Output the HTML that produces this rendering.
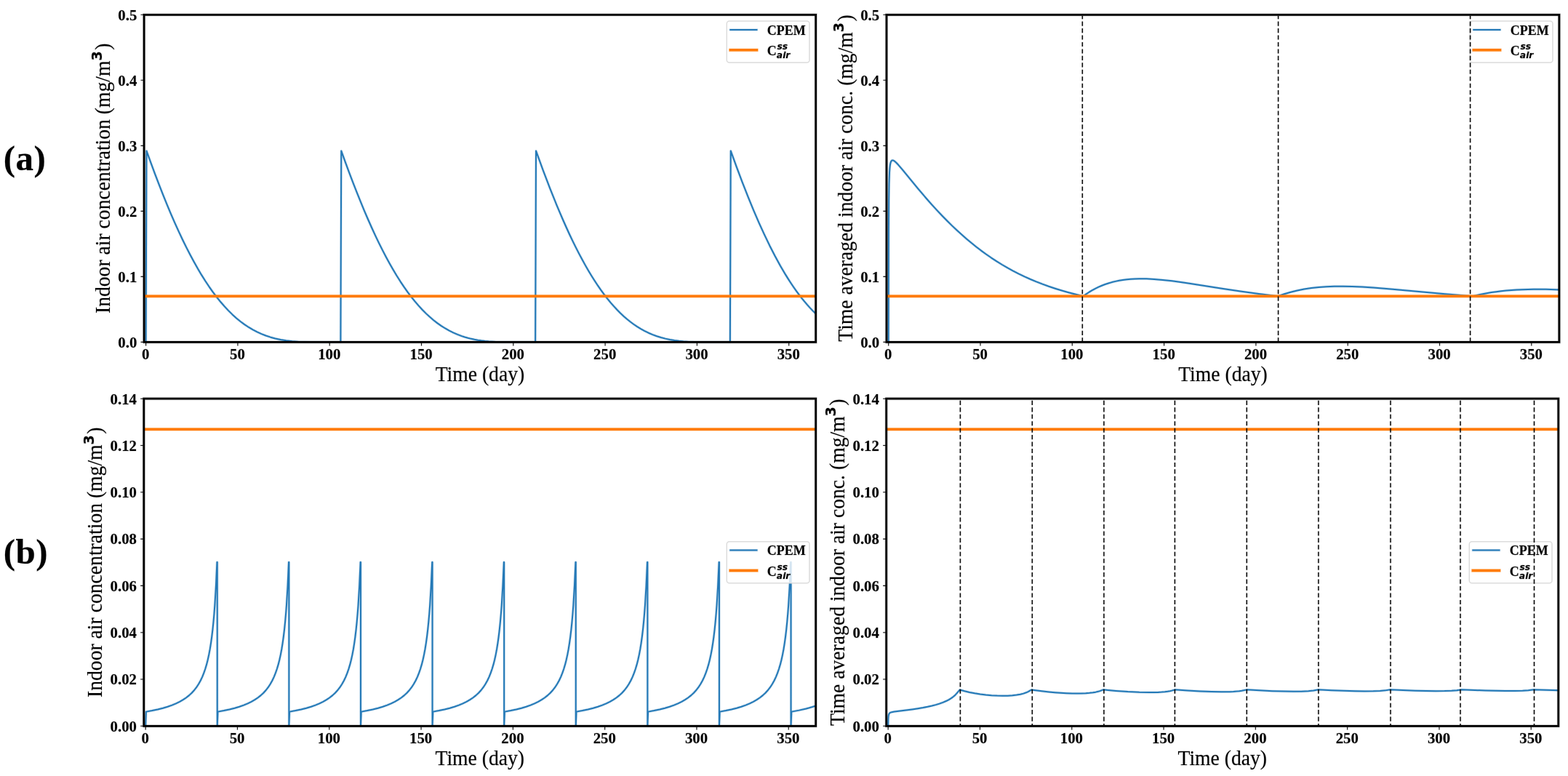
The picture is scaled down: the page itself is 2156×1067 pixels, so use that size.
<!DOCTYPE html>
<html lang="en"><head><meta charset="utf-8"><title>Indoor air concentration figure</title>
<style>
html,body{margin:0;padding:0;background:#fff;}
body{width:2156px;height:1067px;overflow:hidden;}
svg{display:block;}
.tk{font-family:"Liberation Serif","Times New Roman",serif;font-weight:bold;font-size:20.8px;fill:#000;}
.lb{font-family:"Liberation Serif","Times New Roman",serif;font-size:27.65px;fill:#000;}
.sup{font-family:"DejaVu Sans",sans-serif;font-weight:bold;font-size:19.2px;}
.lg{font-family:"Liberation Serif","Times New Roman",serif;font-weight:bold;font-size:18px;fill:#000;}
.ms{font-family:"DejaVu Sans",sans-serif;font-weight:bold;font-style:italic;font-size:12.3px;fill:#000;}
.pn{font-family:"Liberation Serif","Times New Roman",serif;font-weight:bold;font-size:49px;fill:#000;letter-spacing:.5px;}
text{stroke:#000;stroke-opacity:.22;stroke-width:.9px;paint-order:stroke;stroke-linejoin:round;}
</style></head><body>
<svg width="2156" height="1067" viewBox="0 0 2156 1067" role="img" aria-label="Indoor air concentration and time averaged indoor air concentration for scenarios (a) and (b)">
<rect width="2156" height="1067" fill="#fff"/>
<g id="fig">
<g id="ax1">
<clipPath id="clip1"><rect x="197.10" y="19.30" width="925.60" height="452.10"/></clipPath>
<g clip-path="url(#clip1)" fill="none">
<path d="M200.60,470.40 L201.48,207.41 L207.27,223.45 L213.06,239.07 L218.62,253.67 L224.19,267.84 L229.75,281.55 L235.09,294.28 L240.44,306.55 L245.78,318.37 L251.12,329.72 L256.24,340.15 L261.58,350.56 L266.70,360.08 L272.04,369.54 L277.16,378.14 L282.28,386.29 L287.62,394.32 L292.74,401.57 L298.08,408.66 L303.43,415.27 L308.77,421.43 L314.11,427.13 L319.45,432.39 L325.02,437.41 L330.58,441.98 L336.14,446.12 L341.93,449.98 L347.72,453.41 L353.51,456.44 L359.51,459.18 L365.52,461.53 L371.98,463.67 L378.43,465.43 L385.78,467.02 L393.57,468.30 L401.80,469.25 L410.49,469.89 L418.28,470.21 L427.18,470.38 L468.36,470.40 L469.24,207.41 L474.80,222.84 L480.15,237.29 L485.49,251.37 L490.61,264.48 L495.73,277.22 L500.85,289.56 L505.97,301.49 L511.08,313.01 L516.20,324.10 L521.10,334.31 L526.00,344.11 L530.89,353.51 L535.79,362.49 L540.69,371.07 L545.58,379.23 L550.70,387.32 L555.60,394.65 L560.50,401.57 L565.39,408.08 L570.51,414.47 L575.63,420.43 L580.75,425.98 L585.87,431.11 L590.99,435.85 L596.11,440.21 L601.45,444.35 L606.79,448.10 L612.14,451.48 L617.70,454.62 L623.26,457.40 L629.05,459.92 L634.84,462.09 L639.07,463.47 L643.52,464.74 L647.97,465.85 L652.42,466.81 L657.10,467.66 L661.77,468.36 L666.89,468.98 L672.01,469.46 L681.36,470.04 L692.04,470.34 L736.11,470.40 L737.00,207.41 L746.79,234.31 L756.14,258.82 L765.26,281.55 L769.72,292.19 L774.17,302.51 L778.62,312.52 L783.07,322.21 L787.52,331.57 L791.75,340.15 L796.20,348.86 L800.43,356.82 L804.88,364.87 L809.11,372.20 L813.34,379.23 L817.79,386.29 L822.02,392.69 L826.47,399.10 L830.70,404.87 L835.15,410.63 L839.60,416.07 L844.06,421.18 L848.51,425.98 L852.96,430.47 L857.41,434.65 L862.09,438.74 L866.76,442.50 L871.43,445.96 L876.11,449.13 L881.00,452.14 L886.35,455.09 L891.69,457.71 L897.25,460.10 L903.04,462.24 L908.83,464.06 L914.84,465.64 L921.07,466.98 L927.52,468.07 L933.53,468.86 L939.77,469.46 L946.44,469.91 L953.57,470.21 L965.58,470.40 L1003.87,470.40 L1004.75,207.41 L1012.99,230.11 L1020.78,250.79 L1028.57,270.62 L1036.14,289.03 L1043.70,306.55 L1051.05,322.68 L1058.39,337.92 L1065.74,352.25 L1073.08,365.66 L1080.43,378.14 L1083.99,383.86 L1087.77,389.70 L1091.34,394.97 L1095.12,400.34 L1098.68,405.17 L1102.46,410.07 L1106.03,414.47 L1109.81,418.92 L1113.59,423.14 L1117.38,427.13 L1121.16,430.90 L1124.94,434.45" stroke="#2479b7" stroke-width="3.30" stroke-opacity="0.28" fill="none" stroke-linejoin="round" stroke-linecap="butt"/>
<path d="M200.60,470.40 L201.48,207.41 L207.27,223.45 L213.06,239.07 L218.62,253.67 L224.19,267.84 L229.75,281.55 L235.09,294.28 L240.44,306.55 L245.78,318.37 L251.12,329.72 L256.24,340.15 L261.58,350.56 L266.70,360.08 L272.04,369.54 L277.16,378.14 L282.28,386.29 L287.62,394.32 L292.74,401.57 L298.08,408.66 L303.43,415.27 L308.77,421.43 L314.11,427.13 L319.45,432.39 L325.02,437.41 L330.58,441.98 L336.14,446.12 L341.93,449.98 L347.72,453.41 L353.51,456.44 L359.51,459.18 L365.52,461.53 L371.98,463.67 L378.43,465.43 L385.78,467.02 L393.57,468.30 L401.80,469.25 L410.49,469.89 L418.28,470.21 L427.18,470.38 L468.36,470.40 L469.24,207.41 L474.80,222.84 L480.15,237.29 L485.49,251.37 L490.61,264.48 L495.73,277.22 L500.85,289.56 L505.97,301.49 L511.08,313.01 L516.20,324.10 L521.10,334.31 L526.00,344.11 L530.89,353.51 L535.79,362.49 L540.69,371.07 L545.58,379.23 L550.70,387.32 L555.60,394.65 L560.50,401.57 L565.39,408.08 L570.51,414.47 L575.63,420.43 L580.75,425.98 L585.87,431.11 L590.99,435.85 L596.11,440.21 L601.45,444.35 L606.79,448.10 L612.14,451.48 L617.70,454.62 L623.26,457.40 L629.05,459.92 L634.84,462.09 L639.07,463.47 L643.52,464.74 L647.97,465.85 L652.42,466.81 L657.10,467.66 L661.77,468.36 L666.89,468.98 L672.01,469.46 L681.36,470.04 L692.04,470.34 L736.11,470.40 L737.00,207.41 L746.79,234.31 L756.14,258.82 L765.26,281.55 L769.72,292.19 L774.17,302.51 L778.62,312.52 L783.07,322.21 L787.52,331.57 L791.75,340.15 L796.20,348.86 L800.43,356.82 L804.88,364.87 L809.11,372.20 L813.34,379.23 L817.79,386.29 L822.02,392.69 L826.47,399.10 L830.70,404.87 L835.15,410.63 L839.60,416.07 L844.06,421.18 L848.51,425.98 L852.96,430.47 L857.41,434.65 L862.09,438.74 L866.76,442.50 L871.43,445.96 L876.11,449.13 L881.00,452.14 L886.35,455.09 L891.69,457.71 L897.25,460.10 L903.04,462.24 L908.83,464.06 L914.84,465.64 L921.07,466.98 L927.52,468.07 L933.53,468.86 L939.77,469.46 L946.44,469.91 L953.57,470.21 L965.58,470.40 L1003.87,470.40 L1004.75,207.41 L1012.99,230.11 L1020.78,250.79 L1028.57,270.62 L1036.14,289.03 L1043.70,306.55 L1051.05,322.68 L1058.39,337.92 L1065.74,352.25 L1073.08,365.66 L1080.43,378.14 L1083.99,383.86 L1087.77,389.70 L1091.34,394.97 L1095.12,400.34 L1098.68,405.17 L1102.46,410.07 L1106.03,414.47 L1109.81,418.92 L1113.59,423.14 L1117.38,427.13 L1121.16,430.90 L1124.94,434.45" stroke="#2479b7" stroke-width="2.00" fill="none" stroke-linejoin="round" stroke-linecap="butt"/>
<path d="M198.10,407.30 H1121.70" stroke="#ff7b06" stroke-width="4.80" stroke-opacity="0.28" fill="none" />
<path d="M198.10,407.30 H1121.70" stroke="#ff7b06" stroke-width="3.50" fill="none" />
</g>
<path d="M200.60,470.40 v5.08 M326.90,470.40 v5.08 M453.20,470.40 v5.08 M579.50,470.40 v5.08 M705.80,470.40 v5.08 M832.10,470.40 v5.08 M958.40,470.40 v5.08 M1084.70,470.40 v5.08 M198.10,470.40 h-4.58 M198.10,380.38 h-4.58 M198.10,290.36 h-4.58 M198.10,200.34 h-4.58 M198.10,110.32 h-4.58 M198.10,20.30 h-4.58" stroke="#1a1a1a" stroke-width="2.30" stroke-opacity="0.12" fill="none" />
<path d="M200.60,470.40 v5.08 M326.90,470.40 v5.08 M453.20,470.40 v5.08 M579.50,470.40 v5.08 M705.80,470.40 v5.08 M832.10,470.40 v5.08 M958.40,470.40 v5.08 M1084.70,470.40 v5.08 M198.10,470.40 h-4.58 M198.10,380.38 h-4.58 M198.10,290.36 h-4.58 M198.10,200.34 h-4.58 M198.10,110.32 h-4.58 M198.10,20.30 h-4.58" stroke="#1a1a1a" stroke-width="1.10" fill="none" />
<path d="M198.10,20.30 H1121.70 V470.40 H198.10 Z" stroke="#000000" stroke-width="4.05" stroke-opacity="0.22" fill="none" stroke-linejoin="miter"/>
<path d="M198.10,20.30 H1121.70 V470.40 H198.10 Z" stroke="#000000" stroke-width="2.75" fill="none" stroke-linejoin="miter"/>
<text class="tk" transform="translate(200.20,493.90) scale(1,1.050)" text-anchor="middle">0</text>
<text class="tk" transform="translate(326.50,493.90) scale(1,1.050)" text-anchor="middle">50</text>
<text class="tk" transform="translate(452.80,493.90) scale(1,1.050)" text-anchor="middle">100</text>
<text class="tk" transform="translate(579.10,493.90) scale(1,1.050)" text-anchor="middle">150</text>
<text class="tk" transform="translate(705.40,493.90) scale(1,1.050)" text-anchor="middle">200</text>
<text class="tk" transform="translate(831.70,493.90) scale(1,1.050)" text-anchor="middle">250</text>
<text class="tk" transform="translate(958.00,493.90) scale(1,1.050)" text-anchor="middle">300</text>
<text class="tk" transform="translate(1084.30,493.90) scale(1,1.050)" text-anchor="middle">350</text>
<text class="tk" transform="translate(188.30,477.70) scale(1,1.050)" text-anchor="end">0.0</text>
<text class="tk" transform="translate(188.30,387.68) scale(1,1.050)" text-anchor="end">0.1</text>
<text class="tk" transform="translate(188.30,297.66) scale(1,1.050)" text-anchor="end">0.2</text>
<text class="tk" transform="translate(188.30,207.64) scale(1,1.050)" text-anchor="end">0.3</text>
<text class="tk" transform="translate(188.30,117.62) scale(1,1.050)" text-anchor="end">0.4</text>
<text class="tk" transform="translate(188.30,27.60) scale(1,1.050)" text-anchor="end">0.5</text>
<text class="lb" transform="translate(659.90,524.00) scale(1,1.050)" text-anchor="middle">Time (day)</text>
<text class="lb" transform="translate(150.70,245.35) rotate(-90) scale(1,1.050)" text-anchor="middle">Indoor air concentration (mg/m<tspan class="sup" dy="-10.5">3</tspan><tspan dx="1.3" dy="10.5">)</tspan></text>
<g id="legend1">
<rect x="999.30" y="29.10" width="113.7" height="57" rx="3.5" ry="3.5" fill="#fff" fill-opacity="0.8" stroke="#dcdcdc" stroke-width="1.5"/>
<path d="M1004.35,40.90 H1040.45" stroke="#2479b7" stroke-width="3.30" stroke-opacity="0.28" fill="none" stroke-linecap="square"/>
<path d="M1004.35,40.90 H1040.45" stroke="#2479b7" stroke-width="2.00" fill="none" stroke-linecap="square"/>
<path d="M1004.35,68.80 H1040.45" stroke="#ff7b06" stroke-width="4.80" stroke-opacity="0.28" fill="none" stroke-linecap="square"/>
<path d="M1004.35,68.80 H1040.45" stroke="#ff7b06" stroke-width="3.50" fill="none" stroke-linecap="square"/>
<text class="lg" transform="translate(1054.70,47.50) scale(1,1.050)" text-anchor="start">CPEM</text>
<text class="lg" transform="translate(1054.70,76.00) scale(1,1.050)" text-anchor="start">C<tspan class="ms" dx="0.8" dy="-7.5">ss</tspan><tspan class="ms" dx="-15.3" dy="11.2">air</tspan></text>
</g>
</g>
<g id="ax2">
<clipPath id="clip2"><rect x="1218.00" y="19.30" width="926.90" height="452.10"/></clipPath>
<g clip-path="url(#clip2)" fill="none">
<path d="M1221.70,470.40 L1221.94,315.86 L1222.17,276.73 L1222.51,252.37 L1223.04,236.76 L1223.41,231.39 L1223.86,227.28 L1224.39,224.40 L1225.10,222.23 L1225.50,221.51 L1225.95,220.96 L1226.41,220.63 L1227.06,220.43 L1227.72,220.47 L1228.41,220.68 L1229.30,221.15 L1230.19,221.77 L1232.41,223.74 L1235.09,226.55 L1241.14,233.62 L1262.24,259.37 L1274.28,273.50 L1281.45,281.59 L1288.57,289.38 L1295.51,296.71 L1302.40,303.74 L1309.10,310.34 L1315.63,316.52 L1322.31,322.61 L1329.00,328.46 L1335.70,334.08 L1342.39,339.43 L1349.10,344.57 L1355.80,349.46 L1363.15,354.55 L1370.52,359.39 L1377.96,363.99 L1385.54,368.41 L1393.17,372.59 L1400.97,376.60 L1408.89,380.41 L1416.93,384.01 L1425.08,387.41 L1433.43,390.66 L1441.99,393.75 L1450.81,396.69 L1459.92,399.51 L1469.37,402.21 L1479.22,404.82 L1489.45,407.32 L1493.48,404.41 L1497.55,401.72 L1501.74,399.19 L1506.00,396.87 L1510.44,394.70 L1514.91,392.76 L1519.39,391.03 L1524.09,389.45 L1528.76,388.09 L1533.68,386.87 L1538.81,385.82 L1543.93,384.97 L1549.29,384.29 L1554.67,383.79 L1560.46,383.45 L1566.28,383.28 L1576.33,383.37 L1587.04,383.91 L1598.67,384.89 L1611.60,386.36 L1621.88,387.73 L1633.72,389.46 L1681.86,397.03 L1705.49,400.56 L1730.78,404.03 L1757.20,407.30 L1765.92,404.26 L1774.64,401.68 L1783.78,399.44 L1793.16,397.59 L1802.99,396.09 L1813.04,394.97 L1823.54,394.19 L1834.69,393.76 L1846.55,393.67 L1859.28,393.92 L1873.11,394.52 L1888.51,395.49 L1915.11,397.64 L1986.90,404.16 L2024.95,407.30 L2031.43,405.75 L2037.68,404.42 L2044.16,403.19 L2050.64,402.11 L2057.34,401.14 L2064.05,400.31 L2070.99,399.59 L2078.20,398.99 L2085.50,398.51 L2093.08,398.15 L2100.89,397.90 L2108.92,397.77 L2125.91,397.85 L2144.95,398.38" stroke="#2479b7" stroke-width="3.30" stroke-opacity="0.28" fill="none" stroke-linejoin="round" stroke-linecap="butt"/>
<path d="M1221.70,470.40 L1221.94,315.86 L1222.17,276.73 L1222.51,252.37 L1223.04,236.76 L1223.41,231.39 L1223.86,227.28 L1224.39,224.40 L1225.10,222.23 L1225.50,221.51 L1225.95,220.96 L1226.41,220.63 L1227.06,220.43 L1227.72,220.47 L1228.41,220.68 L1229.30,221.15 L1230.19,221.77 L1232.41,223.74 L1235.09,226.55 L1241.14,233.62 L1262.24,259.37 L1274.28,273.50 L1281.45,281.59 L1288.57,289.38 L1295.51,296.71 L1302.40,303.74 L1309.10,310.34 L1315.63,316.52 L1322.31,322.61 L1329.00,328.46 L1335.70,334.08 L1342.39,339.43 L1349.10,344.57 L1355.80,349.46 L1363.15,354.55 L1370.52,359.39 L1377.96,363.99 L1385.54,368.41 L1393.17,372.59 L1400.97,376.60 L1408.89,380.41 L1416.93,384.01 L1425.08,387.41 L1433.43,390.66 L1441.99,393.75 L1450.81,396.69 L1459.92,399.51 L1469.37,402.21 L1479.22,404.82 L1489.45,407.32 L1493.48,404.41 L1497.55,401.72 L1501.74,399.19 L1506.00,396.87 L1510.44,394.70 L1514.91,392.76 L1519.39,391.03 L1524.09,389.45 L1528.76,388.09 L1533.68,386.87 L1538.81,385.82 L1543.93,384.97 L1549.29,384.29 L1554.67,383.79 L1560.46,383.45 L1566.28,383.28 L1576.33,383.37 L1587.04,383.91 L1598.67,384.89 L1611.60,386.36 L1621.88,387.73 L1633.72,389.46 L1681.86,397.03 L1705.49,400.56 L1730.78,404.03 L1757.20,407.30 L1765.92,404.26 L1774.64,401.68 L1783.78,399.44 L1793.16,397.59 L1802.99,396.09 L1813.04,394.97 L1823.54,394.19 L1834.69,393.76 L1846.55,393.67 L1859.28,393.92 L1873.11,394.52 L1888.51,395.49 L1915.11,397.64 L1986.90,404.16 L2024.95,407.30 L2031.43,405.75 L2037.68,404.42 L2044.16,403.19 L2050.64,402.11 L2057.34,401.14 L2064.05,400.31 L2070.99,399.59 L2078.20,398.99 L2085.50,398.51 L2093.08,398.15 L2100.89,397.90 L2108.92,397.77 L2125.91,397.85 L2144.95,398.38" stroke="#2479b7" stroke-width="2.00" fill="none" stroke-linejoin="round" stroke-linecap="butt"/>
<path d="M1219.00,407.30 H2143.90" stroke="#ff7b06" stroke-width="4.80" stroke-opacity="0.28" fill="none" />
<path d="M1219.00,407.30 H2143.90" stroke="#ff7b06" stroke-width="3.50" fill="none" />
</g>
<path d="M1221.70,470.40 v5.08 M1348.00,470.40 v5.08 M1474.30,470.40 v5.08 M1600.60,470.40 v5.08 M1726.90,470.40 v5.08 M1853.20,470.40 v5.08 M1979.50,470.40 v5.08 M2105.80,470.40 v5.08 M1219.00,470.40 h-4.58 M1219.00,380.38 h-4.58 M1219.00,290.36 h-4.58 M1219.00,200.34 h-4.58 M1219.00,110.32 h-4.58 M1219.00,20.30 h-4.58" stroke="#1a1a1a" stroke-width="2.30" stroke-opacity="0.12" fill="none" />
<path d="M1221.70,470.40 v5.08 M1348.00,470.40 v5.08 M1474.30,470.40 v5.08 M1600.60,470.40 v5.08 M1726.90,470.40 v5.08 M1853.20,470.40 v5.08 M1979.50,470.40 v5.08 M2105.80,470.40 v5.08 M1219.00,470.40 h-4.58 M1219.00,380.38 h-4.58 M1219.00,290.36 h-4.58 M1219.00,200.34 h-4.58 M1219.00,110.32 h-4.58 M1219.00,20.30 h-4.58" stroke="#1a1a1a" stroke-width="1.10" fill="none" />
<path d="M1219.00,20.30 H2143.90 V470.40 H1219.00 Z" stroke="#000000" stroke-width="4.05" stroke-opacity="0.22" fill="none" stroke-linejoin="miter"/>
<path d="M1219.00,20.30 H2143.90 V470.40 H1219.00 Z" stroke="#000000" stroke-width="2.75" fill="none" stroke-linejoin="miter"/>
<text class="tk" transform="translate(1221.30,493.90) scale(1,1.050)" text-anchor="middle">0</text>
<text class="tk" transform="translate(1347.60,493.90) scale(1,1.050)" text-anchor="middle">50</text>
<text class="tk" transform="translate(1473.90,493.90) scale(1,1.050)" text-anchor="middle">100</text>
<text class="tk" transform="translate(1600.20,493.90) scale(1,1.050)" text-anchor="middle">150</text>
<text class="tk" transform="translate(1726.50,493.90) scale(1,1.050)" text-anchor="middle">200</text>
<text class="tk" transform="translate(1852.80,493.90) scale(1,1.050)" text-anchor="middle">250</text>
<text class="tk" transform="translate(1979.10,493.90) scale(1,1.050)" text-anchor="middle">300</text>
<text class="tk" transform="translate(2105.40,493.90) scale(1,1.050)" text-anchor="middle">350</text>
<text class="tk" transform="translate(1209.20,477.70) scale(1,1.050)" text-anchor="end">0.0</text>
<text class="tk" transform="translate(1209.20,387.68) scale(1,1.050)" text-anchor="end">0.1</text>
<text class="tk" transform="translate(1209.20,297.66) scale(1,1.050)" text-anchor="end">0.2</text>
<text class="tk" transform="translate(1209.20,207.64) scale(1,1.050)" text-anchor="end">0.3</text>
<text class="tk" transform="translate(1209.20,117.62) scale(1,1.050)" text-anchor="end">0.4</text>
<text class="tk" transform="translate(1209.20,27.60) scale(1,1.050)" text-anchor="end">0.5</text>
<text class="lb" transform="translate(1681.45,524.00) scale(1,1.050)" text-anchor="middle">Time (day)</text>
<text class="lb" transform="translate(1171.50,245.05) rotate(-90) scale(1,1.050)" text-anchor="middle">Time averaged indoor air conc. (mg/m<tspan class="sup" dy="-10.5">3</tspan><tspan dx="1.3" dy="10.5">)</tspan></text>
<g id="legend2">
<rect x="2021.30" y="29.10" width="113.7" height="57" rx="3.5" ry="3.5" fill="#fff" fill-opacity="0.8" stroke="#dcdcdc" stroke-width="1.5"/>
<path d="M2026.35,40.90 H2062.45" stroke="#2479b7" stroke-width="3.30" stroke-opacity="0.28" fill="none" stroke-linecap="square"/>
<path d="M2026.35,40.90 H2062.45" stroke="#2479b7" stroke-width="2.00" fill="none" stroke-linecap="square"/>
<path d="M2026.35,68.80 H2062.45" stroke="#ff7b06" stroke-width="4.80" stroke-opacity="0.28" fill="none" stroke-linecap="square"/>
<path d="M2026.35,68.80 H2062.45" stroke="#ff7b06" stroke-width="3.50" fill="none" stroke-linecap="square"/>
<text class="lg" transform="translate(2076.70,47.50) scale(1,1.050)" text-anchor="start">CPEM</text>
<text class="lg" transform="translate(2076.70,76.00) scale(1,1.050)" text-anchor="start">C<tspan class="ms" dx="0.8" dy="-7.5">ss</tspan><tspan class="ms" dx="-15.3" dy="11.2">air</tspan></text>
</g>
<path d="M1488.30,469.02 V21.68 M1757.60,469.02 V21.68 M2021.60,469.02 V21.68" stroke="#0a0a0a" stroke-width="2.70" stroke-opacity="0.10" fill="none" stroke-dasharray="6.1 3.35" stroke-dashoffset="1.38"/>
<path d="M1488.30,469.02 V21.68 M1757.60,469.02 V21.68 M2021.60,469.02 V21.68" stroke="#0a0a0a" stroke-width="1.50" fill="none" stroke-dasharray="6.1 3.35" stroke-dashoffset="1.38"/>
</g>
<g id="ax3">
<clipPath id="clip3"><rect x="196.80" y="547.20" width="925.90" height="452.10"/></clipPath>
<g clip-path="url(#clip3)" fill="none">
<path d="M200.15,998.30 L200.91,978.61 L209.26,977.09 L216.90,975.45 L223.95,973.67 L230.48,971.72 L236.48,969.62 L241.96,967.35 L247.05,964.88 L251.75,962.19 L256.06,959.29 L260.04,956.13 L263.70,952.72 L267.09,948.99 L270.23,944.93 L273.10,940.54 L275.77,935.73 L278.19,930.61 L280.28,925.44 L282.24,919.79 L284.06,913.64 L285.70,907.24 L287.26,900.10 L288.70,892.47 L290.00,884.41 L291.24,875.49 L292.42,865.63 L293.46,855.41 L294.44,844.26 L295.36,832.14 L296.92,806.15 L298.42,772.93 L298.75,772.93 L298.75,998.30 L299.51,978.61 L307.86,977.09 L315.50,975.45 L322.55,973.67 L329.08,971.72 L335.08,969.62 L340.56,967.35 L345.65,964.88 L350.35,962.19 L354.66,959.29 L358.64,956.13 L362.30,952.72 L365.69,948.99 L368.83,944.93 L371.70,940.54 L374.37,935.73 L376.79,930.61 L378.88,925.44 L380.84,919.79 L382.66,913.64 L384.30,907.24 L385.86,900.10 L387.30,892.47 L388.60,884.41 L389.84,875.49 L391.02,865.63 L392.06,855.41 L393.04,844.26 L393.96,832.14 L395.52,806.15 L397.02,772.93 L397.35,772.93 L397.35,998.30 L398.11,978.61 L406.46,977.09 L414.10,975.45 L421.15,973.67 L427.68,971.72 L433.68,969.62 L439.16,967.35 L444.25,964.88 L448.95,962.19 L453.26,959.29 L457.24,956.13 L460.90,952.72 L464.29,948.99 L467.43,944.93 L470.30,940.54 L472.97,935.73 L475.39,930.61 L477.48,925.44 L479.44,919.79 L481.26,913.64 L482.90,907.24 L484.46,900.10 L485.90,892.47 L487.20,884.41 L488.44,875.49 L489.62,865.63 L490.66,855.41 L491.64,844.26 L492.56,832.14 L494.12,806.15 L495.62,772.93 L495.95,772.93 L495.95,998.30 L496.71,978.61 L505.06,977.09 L512.70,975.45 L519.75,973.67 L526.28,971.72 L532.28,969.62 L537.76,967.35 L542.85,964.88 L547.55,962.19 L551.86,959.29 L555.84,956.13 L559.50,952.72 L562.89,948.99 L566.03,944.93 L568.90,940.54 L571.57,935.73 L573.99,930.61 L576.08,925.44 L578.04,919.79 L579.86,913.64 L581.50,907.24 L583.06,900.10 L584.50,892.47 L585.80,884.41 L587.04,875.49 L588.22,865.63 L589.26,855.41 L590.24,844.26 L591.16,832.14 L592.72,806.15 L594.22,772.93 L594.55,772.93 L594.55,998.30 L595.31,978.61 L603.66,977.09 L611.30,975.45 L618.35,973.67 L624.88,971.72 L630.88,969.62 L636.36,967.35 L641.45,964.88 L646.15,962.19 L650.46,959.29 L654.44,956.13 L658.10,952.72 L661.49,948.99 L664.63,944.93 L667.50,940.54 L670.17,935.73 L672.59,930.61 L674.68,925.44 L676.64,919.79 L678.46,913.64 L680.10,907.24 L681.66,900.10 L683.10,892.47 L684.40,884.41 L685.64,875.49 L686.82,865.63 L687.86,855.41 L688.84,844.26 L689.76,832.14 L691.32,806.15 L692.82,772.93 L693.15,772.93 L693.15,998.30 L693.91,978.61 L702.26,977.09 L709.90,975.45 L716.95,973.67 L723.48,971.72 L729.48,969.62 L734.96,967.35 L740.05,964.88 L744.75,962.19 L749.06,959.29 L753.04,956.13 L756.70,952.72 L760.09,948.99 L763.23,944.93 L766.10,940.54 L768.77,935.73 L771.19,930.61 L773.28,925.44 L775.24,919.79 L777.06,913.64 L778.70,907.24 L780.26,900.10 L781.70,892.47 L783.00,884.41 L784.24,875.49 L785.42,865.63 L786.46,855.41 L787.44,844.26 L788.36,832.14 L789.92,806.15 L791.42,772.93 L791.75,772.93 L791.75,998.30 L792.51,978.61 L800.86,977.09 L808.50,975.45 L815.55,973.67 L822.08,971.72 L828.08,969.62 L833.56,967.35 L838.65,964.88 L843.35,962.19 L847.66,959.29 L851.64,956.13 L855.30,952.72 L858.69,948.99 L861.83,944.93 L864.70,940.54 L867.37,935.73 L869.79,930.61 L871.88,925.44 L873.84,919.79 L875.66,913.64 L877.30,907.24 L878.86,900.10 L880.30,892.47 L881.60,884.41 L882.84,875.49 L884.02,865.63 L885.06,855.41 L886.04,844.26 L886.96,832.14 L888.52,806.15 L890.02,772.93 L890.35,772.93 L890.35,998.30 L891.11,978.61 L899.46,977.09 L907.10,975.45 L914.15,973.67 L920.68,971.72 L926.68,969.62 L932.16,967.35 L937.25,964.88 L941.95,962.19 L946.26,959.29 L950.24,956.13 L953.90,952.72 L957.29,948.99 L960.43,944.93 L963.30,940.54 L965.97,935.73 L968.39,930.61 L970.48,925.44 L972.44,919.79 L974.26,913.64 L975.90,907.24 L977.46,900.10 L978.90,892.47 L980.20,884.41 L981.44,875.49 L982.62,865.63 L983.66,855.41 L984.64,844.26 L985.56,832.14 L987.12,806.15 L988.62,772.93 L988.95,772.93 L988.95,998.30 L989.71,978.61 L998.06,977.09 L1005.70,975.45 L1012.75,973.67 L1019.28,971.72 L1025.28,969.62 L1030.76,967.35 L1035.85,964.88 L1040.55,962.19 L1044.86,959.29 L1048.84,956.13 L1052.50,952.72 L1055.89,948.99 L1059.03,944.93 L1061.90,940.54 L1064.57,935.73 L1066.99,930.61 L1069.08,925.44 L1071.04,919.79 L1072.86,913.64 L1074.50,907.24 L1076.06,900.10 L1077.50,892.47 L1078.80,884.41 L1080.04,875.49 L1081.22,865.63 L1082.26,855.41 L1083.24,844.26 L1084.16,832.14 L1085.72,806.15 L1087.22,772.93 L1087.55,772.93 L1087.55,998.30 L1088.31,978.61 L1098.88,976.64 L1108.41,974.45 L1112.78,973.27 L1116.96,972.02 L1120.94,970.69 L1124.66,969.32" stroke="#2479b7" stroke-width="3.30" stroke-opacity="0.28" fill="none" stroke-linejoin="round" stroke-linecap="butt"/>
<path d="M200.15,998.30 L200.91,978.61 L209.26,977.09 L216.90,975.45 L223.95,973.67 L230.48,971.72 L236.48,969.62 L241.96,967.35 L247.05,964.88 L251.75,962.19 L256.06,959.29 L260.04,956.13 L263.70,952.72 L267.09,948.99 L270.23,944.93 L273.10,940.54 L275.77,935.73 L278.19,930.61 L280.28,925.44 L282.24,919.79 L284.06,913.64 L285.70,907.24 L287.26,900.10 L288.70,892.47 L290.00,884.41 L291.24,875.49 L292.42,865.63 L293.46,855.41 L294.44,844.26 L295.36,832.14 L296.92,806.15 L298.42,772.93 L298.75,772.93 L298.75,998.30 L299.51,978.61 L307.86,977.09 L315.50,975.45 L322.55,973.67 L329.08,971.72 L335.08,969.62 L340.56,967.35 L345.65,964.88 L350.35,962.19 L354.66,959.29 L358.64,956.13 L362.30,952.72 L365.69,948.99 L368.83,944.93 L371.70,940.54 L374.37,935.73 L376.79,930.61 L378.88,925.44 L380.84,919.79 L382.66,913.64 L384.30,907.24 L385.86,900.10 L387.30,892.47 L388.60,884.41 L389.84,875.49 L391.02,865.63 L392.06,855.41 L393.04,844.26 L393.96,832.14 L395.52,806.15 L397.02,772.93 L397.35,772.93 L397.35,998.30 L398.11,978.61 L406.46,977.09 L414.10,975.45 L421.15,973.67 L427.68,971.72 L433.68,969.62 L439.16,967.35 L444.25,964.88 L448.95,962.19 L453.26,959.29 L457.24,956.13 L460.90,952.72 L464.29,948.99 L467.43,944.93 L470.30,940.54 L472.97,935.73 L475.39,930.61 L477.48,925.44 L479.44,919.79 L481.26,913.64 L482.90,907.24 L484.46,900.10 L485.90,892.47 L487.20,884.41 L488.44,875.49 L489.62,865.63 L490.66,855.41 L491.64,844.26 L492.56,832.14 L494.12,806.15 L495.62,772.93 L495.95,772.93 L495.95,998.30 L496.71,978.61 L505.06,977.09 L512.70,975.45 L519.75,973.67 L526.28,971.72 L532.28,969.62 L537.76,967.35 L542.85,964.88 L547.55,962.19 L551.86,959.29 L555.84,956.13 L559.50,952.72 L562.89,948.99 L566.03,944.93 L568.90,940.54 L571.57,935.73 L573.99,930.61 L576.08,925.44 L578.04,919.79 L579.86,913.64 L581.50,907.24 L583.06,900.10 L584.50,892.47 L585.80,884.41 L587.04,875.49 L588.22,865.63 L589.26,855.41 L590.24,844.26 L591.16,832.14 L592.72,806.15 L594.22,772.93 L594.55,772.93 L594.55,998.30 L595.31,978.61 L603.66,977.09 L611.30,975.45 L618.35,973.67 L624.88,971.72 L630.88,969.62 L636.36,967.35 L641.45,964.88 L646.15,962.19 L650.46,959.29 L654.44,956.13 L658.10,952.72 L661.49,948.99 L664.63,944.93 L667.50,940.54 L670.17,935.73 L672.59,930.61 L674.68,925.44 L676.64,919.79 L678.46,913.64 L680.10,907.24 L681.66,900.10 L683.10,892.47 L684.40,884.41 L685.64,875.49 L686.82,865.63 L687.86,855.41 L688.84,844.26 L689.76,832.14 L691.32,806.15 L692.82,772.93 L693.15,772.93 L693.15,998.30 L693.91,978.61 L702.26,977.09 L709.90,975.45 L716.95,973.67 L723.48,971.72 L729.48,969.62 L734.96,967.35 L740.05,964.88 L744.75,962.19 L749.06,959.29 L753.04,956.13 L756.70,952.72 L760.09,948.99 L763.23,944.93 L766.10,940.54 L768.77,935.73 L771.19,930.61 L773.28,925.44 L775.24,919.79 L777.06,913.64 L778.70,907.24 L780.26,900.10 L781.70,892.47 L783.00,884.41 L784.24,875.49 L785.42,865.63 L786.46,855.41 L787.44,844.26 L788.36,832.14 L789.92,806.15 L791.42,772.93 L791.75,772.93 L791.75,998.30 L792.51,978.61 L800.86,977.09 L808.50,975.45 L815.55,973.67 L822.08,971.72 L828.08,969.62 L833.56,967.35 L838.65,964.88 L843.35,962.19 L847.66,959.29 L851.64,956.13 L855.30,952.72 L858.69,948.99 L861.83,944.93 L864.70,940.54 L867.37,935.73 L869.79,930.61 L871.88,925.44 L873.84,919.79 L875.66,913.64 L877.30,907.24 L878.86,900.10 L880.30,892.47 L881.60,884.41 L882.84,875.49 L884.02,865.63 L885.06,855.41 L886.04,844.26 L886.96,832.14 L888.52,806.15 L890.02,772.93 L890.35,772.93 L890.35,998.30 L891.11,978.61 L899.46,977.09 L907.10,975.45 L914.15,973.67 L920.68,971.72 L926.68,969.62 L932.16,967.35 L937.25,964.88 L941.95,962.19 L946.26,959.29 L950.24,956.13 L953.90,952.72 L957.29,948.99 L960.43,944.93 L963.30,940.54 L965.97,935.73 L968.39,930.61 L970.48,925.44 L972.44,919.79 L974.26,913.64 L975.90,907.24 L977.46,900.10 L978.90,892.47 L980.20,884.41 L981.44,875.49 L982.62,865.63 L983.66,855.41 L984.64,844.26 L985.56,832.14 L987.12,806.15 L988.62,772.93 L988.95,772.93 L988.95,998.30 L989.71,978.61 L998.06,977.09 L1005.70,975.45 L1012.75,973.67 L1019.28,971.72 L1025.28,969.62 L1030.76,967.35 L1035.85,964.88 L1040.55,962.19 L1044.86,959.29 L1048.84,956.13 L1052.50,952.72 L1055.89,948.99 L1059.03,944.93 L1061.90,940.54 L1064.57,935.73 L1066.99,930.61 L1069.08,925.44 L1071.04,919.79 L1072.86,913.64 L1074.50,907.24 L1076.06,900.10 L1077.50,892.47 L1078.80,884.41 L1080.04,875.49 L1081.22,865.63 L1082.26,855.41 L1083.24,844.26 L1084.16,832.14 L1085.72,806.15 L1087.22,772.93 L1087.55,772.93 L1087.55,998.30 L1088.31,978.61 L1098.88,976.64 L1108.41,974.45 L1112.78,973.27 L1116.96,972.02 L1120.94,970.69 L1124.66,969.32" stroke="#2479b7" stroke-width="2.00" fill="none" stroke-linejoin="round" stroke-linecap="butt"/>
<path d="M197.80,590.30 H1121.70" stroke="#ff7b06" stroke-width="4.80" stroke-opacity="0.28" fill="none" />
<path d="M197.80,590.30 H1121.70" stroke="#ff7b06" stroke-width="3.50" fill="none" />
</g>
<path d="M200.15,998.30 v5.08 M326.45,998.30 v5.08 M452.75,998.30 v5.08 M579.05,998.30 v5.08 M705.35,998.30 v5.08 M831.65,998.30 v5.08 M957.95,998.30 v5.08 M1084.25,998.30 v5.08 M197.80,998.30 h-4.58 M197.80,934.00 h-4.58 M197.80,869.70 h-4.58 M197.80,805.40 h-4.58 M197.80,741.10 h-4.58 M197.80,676.80 h-4.58 M197.80,612.50 h-4.58 M197.80,548.20 h-4.58" stroke="#1a1a1a" stroke-width="2.30" stroke-opacity="0.12" fill="none" />
<path d="M200.15,998.30 v5.08 M326.45,998.30 v5.08 M452.75,998.30 v5.08 M579.05,998.30 v5.08 M705.35,998.30 v5.08 M831.65,998.30 v5.08 M957.95,998.30 v5.08 M1084.25,998.30 v5.08 M197.80,998.30 h-4.58 M197.80,934.00 h-4.58 M197.80,869.70 h-4.58 M197.80,805.40 h-4.58 M197.80,741.10 h-4.58 M197.80,676.80 h-4.58 M197.80,612.50 h-4.58 M197.80,548.20 h-4.58" stroke="#1a1a1a" stroke-width="1.10" fill="none" />
<path d="M197.80,548.20 H1121.70 V998.30 H197.80 Z" stroke="#000000" stroke-width="4.05" stroke-opacity="0.22" fill="none" stroke-linejoin="miter"/>
<path d="M197.80,548.20 H1121.70 V998.30 H197.80 Z" stroke="#000000" stroke-width="2.75" fill="none" stroke-linejoin="miter"/>
<text class="tk" transform="translate(199.75,1021.80) scale(1,1.050)" text-anchor="middle">0</text>
<text class="tk" transform="translate(326.05,1021.80) scale(1,1.050)" text-anchor="middle">50</text>
<text class="tk" transform="translate(452.35,1021.80) scale(1,1.050)" text-anchor="middle">100</text>
<text class="tk" transform="translate(578.65,1021.80) scale(1,1.050)" text-anchor="middle">150</text>
<text class="tk" transform="translate(704.95,1021.80) scale(1,1.050)" text-anchor="middle">200</text>
<text class="tk" transform="translate(831.25,1021.80) scale(1,1.050)" text-anchor="middle">250</text>
<text class="tk" transform="translate(957.55,1021.80) scale(1,1.050)" text-anchor="middle">300</text>
<text class="tk" transform="translate(1083.85,1021.80) scale(1,1.050)" text-anchor="middle">350</text>
<text class="tk" transform="translate(188.00,1005.60) scale(1,1.050)" text-anchor="end">0.00</text>
<text class="tk" transform="translate(188.00,941.30) scale(1,1.050)" text-anchor="end">0.02</text>
<text class="tk" transform="translate(188.00,877.00) scale(1,1.050)" text-anchor="end">0.04</text>
<text class="tk" transform="translate(188.00,812.70) scale(1,1.050)" text-anchor="end">0.06</text>
<text class="tk" transform="translate(188.00,748.40) scale(1,1.050)" text-anchor="end">0.08</text>
<text class="tk" transform="translate(188.00,684.10) scale(1,1.050)" text-anchor="end">0.10</text>
<text class="tk" transform="translate(188.00,619.80) scale(1,1.050)" text-anchor="end">0.12</text>
<text class="tk" transform="translate(188.00,555.50) scale(1,1.050)" text-anchor="end">0.14</text>
<text class="lb" transform="translate(659.75,1051.90) scale(1,1.050)" text-anchor="middle">Time (day)</text>
<text class="lb" transform="translate(140.30,773.25) rotate(-90) scale(1,1.050)" text-anchor="middle">Indoor air concentration (mg/m<tspan class="sup" dy="-10.5">3</tspan><tspan dx="1.3" dy="10.5">)</tspan></text>
<g id="legend3">
<rect x="999.30" y="744.80" width="113.7" height="57" rx="3.5" ry="3.5" fill="#fff" fill-opacity="0.8" stroke="#dcdcdc" stroke-width="1.5"/>
<path d="M1004.35,756.60 H1040.45" stroke="#2479b7" stroke-width="3.30" stroke-opacity="0.28" fill="none" stroke-linecap="square"/>
<path d="M1004.35,756.60 H1040.45" stroke="#2479b7" stroke-width="2.00" fill="none" stroke-linecap="square"/>
<path d="M1004.35,784.50 H1040.45" stroke="#ff7b06" stroke-width="4.80" stroke-opacity="0.28" fill="none" stroke-linecap="square"/>
<path d="M1004.35,784.50 H1040.45" stroke="#ff7b06" stroke-width="3.50" fill="none" stroke-linecap="square"/>
<text class="lg" transform="translate(1054.70,763.20) scale(1,1.050)" text-anchor="start">CPEM</text>
<text class="lg" transform="translate(1054.70,791.70) scale(1,1.050)" text-anchor="start">C<tspan class="ms" dx="0.8" dy="-7.5">ss</tspan><tspan class="ms" dx="-15.3" dy="11.2">air</tspan></text>
</g>
</g>
<g id="ax4">
<clipPath id="clip4"><rect x="1217.70" y="547.20" width="926.10" height="452.10"/></clipPath>
<g clip-path="url(#clip4)" fill="none">
<path d="M1221.15,998.30 L1221.37,988.79 L1221.54,985.90 L1221.78,983.87 L1222.12,982.38 L1222.59,981.30 L1223.26,980.48 L1224.19,979.86 L1226.24,979.16 L1229.60,978.53 L1254.16,975.43 L1261.99,974.27 L1269.11,973.06 L1275.47,971.82 L1281.33,970.51 L1286.67,969.12 L1291.59,967.62 L1296.40,965.90 L1300.79,964.03 L1304.69,962.03 L1308.19,959.87 L1311.07,957.72 L1313.64,955.41 L1315.28,953.66 L1319.75,948.45 L1326.32,950.30 L1333.16,951.92 L1340.35,953.33 L1347.84,954.52 L1355.60,955.48 L1363.43,956.18 L1371.19,956.61 L1378.70,956.76 L1385.59,956.64 L1391.97,956.25 L1397.77,955.60 L1402.89,954.71 L1407.22,953.62 L1410.97,952.31 L1413.68,951.05 L1418.35,948.39 L1426.36,949.55 L1434.33,950.55 L1442.41,951.43 L1450.46,952.17 L1458.48,952.76 L1466.24,953.19 L1473.68,953.45 L1480.71,953.54 L1487.02,953.47 L1492.82,953.24 L1498.01,952.86 L1502.68,952.31 L1506.55,951.65 L1509.98,950.84 L1512.41,950.08 L1516.97,948.37 L1534.04,949.94 L1550.78,951.12 L1566.48,951.85 L1580.54,952.11 L1586.67,952.07 L1592.21,951.90 L1597.25,951.62 L1601.74,951.23 L1605.49,950.75 L1608.77,950.17 L1611.08,949.62 L1615.56,948.36 L1633.31,949.60 L1650.27,950.52 L1665.86,951.09 L1679.62,951.30 L1691.13,951.14 L1696.05,950.93 L1700.47,950.62 L1704.16,950.25 L1707.39,949.79 L1714.16,948.36 L1732.25,949.37 L1749.28,950.13 L1764.73,950.60 L1778.28,950.78 L1789.80,950.66 L1799.14,950.23 L1806.03,949.54 L1812.76,948.35 L1830.96,949.21 L1847.95,949.85 L1863.24,950.25 L1876.56,950.41 L1888.26,950.32 L1897.67,949.96 L1904.63,949.37 L1911.36,948.35 L1929.37,949.08 L1946.09,949.63 L1961.08,949.98 L1974.17,950.13 L1986.26,950.07 L1995.95,949.77 L2003.11,949.25 L2009.96,948.35 L2042.71,949.42 L2056.98,949.74 L2069.54,949.91 L2082.89,949.90 L2093.56,949.65 L2101.39,949.17 L2108.55,948.35 L2144.40,949.38" stroke="#2479b7" stroke-width="3.30" stroke-opacity="0.28" fill="none" stroke-linejoin="round" stroke-linecap="butt"/>
<path d="M1221.15,998.30 L1221.37,988.79 L1221.54,985.90 L1221.78,983.87 L1222.12,982.38 L1222.59,981.30 L1223.26,980.48 L1224.19,979.86 L1226.24,979.16 L1229.60,978.53 L1254.16,975.43 L1261.99,974.27 L1269.11,973.06 L1275.47,971.82 L1281.33,970.51 L1286.67,969.12 L1291.59,967.62 L1296.40,965.90 L1300.79,964.03 L1304.69,962.03 L1308.19,959.87 L1311.07,957.72 L1313.64,955.41 L1315.28,953.66 L1319.75,948.45 L1326.32,950.30 L1333.16,951.92 L1340.35,953.33 L1347.84,954.52 L1355.60,955.48 L1363.43,956.18 L1371.19,956.61 L1378.70,956.76 L1385.59,956.64 L1391.97,956.25 L1397.77,955.60 L1402.89,954.71 L1407.22,953.62 L1410.97,952.31 L1413.68,951.05 L1418.35,948.39 L1426.36,949.55 L1434.33,950.55 L1442.41,951.43 L1450.46,952.17 L1458.48,952.76 L1466.24,953.19 L1473.68,953.45 L1480.71,953.54 L1487.02,953.47 L1492.82,953.24 L1498.01,952.86 L1502.68,952.31 L1506.55,951.65 L1509.98,950.84 L1512.41,950.08 L1516.97,948.37 L1534.04,949.94 L1550.78,951.12 L1566.48,951.85 L1580.54,952.11 L1586.67,952.07 L1592.21,951.90 L1597.25,951.62 L1601.74,951.23 L1605.49,950.75 L1608.77,950.17 L1611.08,949.62 L1615.56,948.36 L1633.31,949.60 L1650.27,950.52 L1665.86,951.09 L1679.62,951.30 L1691.13,951.14 L1696.05,950.93 L1700.47,950.62 L1704.16,950.25 L1707.39,949.79 L1714.16,948.36 L1732.25,949.37 L1749.28,950.13 L1764.73,950.60 L1778.28,950.78 L1789.80,950.66 L1799.14,950.23 L1806.03,949.54 L1812.76,948.35 L1830.96,949.21 L1847.95,949.85 L1863.24,950.25 L1876.56,950.41 L1888.26,950.32 L1897.67,949.96 L1904.63,949.37 L1911.36,948.35 L1929.37,949.08 L1946.09,949.63 L1961.08,949.98 L1974.17,950.13 L1986.26,950.07 L1995.95,949.77 L2003.11,949.25 L2009.96,948.35 L2042.71,949.42 L2056.98,949.74 L2069.54,949.91 L2082.89,949.90 L2093.56,949.65 L2101.39,949.17 L2108.55,948.35 L2144.40,949.38" stroke="#2479b7" stroke-width="2.00" fill="none" stroke-linejoin="round" stroke-linecap="butt"/>
<path d="M1218.70,590.30 H2142.80" stroke="#ff7b06" stroke-width="4.80" stroke-opacity="0.28" fill="none" />
<path d="M1218.70,590.30 H2142.80" stroke="#ff7b06" stroke-width="3.50" fill="none" />
</g>
<path d="M1221.15,998.30 v5.08 M1347.45,998.30 v5.08 M1473.75,998.30 v5.08 M1600.05,998.30 v5.08 M1726.35,998.30 v5.08 M1852.65,998.30 v5.08 M1978.95,998.30 v5.08 M2105.25,998.30 v5.08 M1218.70,998.30 h-4.58 M1218.70,934.00 h-4.58 M1218.70,869.70 h-4.58 M1218.70,805.40 h-4.58 M1218.70,741.10 h-4.58 M1218.70,676.80 h-4.58 M1218.70,612.50 h-4.58 M1218.70,548.20 h-4.58" stroke="#1a1a1a" stroke-width="2.30" stroke-opacity="0.12" fill="none" />
<path d="M1221.15,998.30 v5.08 M1347.45,998.30 v5.08 M1473.75,998.30 v5.08 M1600.05,998.30 v5.08 M1726.35,998.30 v5.08 M1852.65,998.30 v5.08 M1978.95,998.30 v5.08 M2105.25,998.30 v5.08 M1218.70,998.30 h-4.58 M1218.70,934.00 h-4.58 M1218.70,869.70 h-4.58 M1218.70,805.40 h-4.58 M1218.70,741.10 h-4.58 M1218.70,676.80 h-4.58 M1218.70,612.50 h-4.58 M1218.70,548.20 h-4.58" stroke="#1a1a1a" stroke-width="1.10" fill="none" />
<path d="M1218.70,548.20 H2142.80 V998.30 H1218.70 Z" stroke="#000000" stroke-width="4.05" stroke-opacity="0.22" fill="none" stroke-linejoin="miter"/>
<path d="M1218.70,548.20 H2142.80 V998.30 H1218.70 Z" stroke="#000000" stroke-width="2.75" fill="none" stroke-linejoin="miter"/>
<text class="tk" transform="translate(1220.75,1021.80) scale(1,1.050)" text-anchor="middle">0</text>
<text class="tk" transform="translate(1347.05,1021.80) scale(1,1.050)" text-anchor="middle">50</text>
<text class="tk" transform="translate(1473.35,1021.80) scale(1,1.050)" text-anchor="middle">100</text>
<text class="tk" transform="translate(1599.65,1021.80) scale(1,1.050)" text-anchor="middle">150</text>
<text class="tk" transform="translate(1725.95,1021.80) scale(1,1.050)" text-anchor="middle">200</text>
<text class="tk" transform="translate(1852.25,1021.80) scale(1,1.050)" text-anchor="middle">250</text>
<text class="tk" transform="translate(1978.55,1021.80) scale(1,1.050)" text-anchor="middle">300</text>
<text class="tk" transform="translate(2104.85,1021.80) scale(1,1.050)" text-anchor="middle">350</text>
<text class="tk" transform="translate(1208.90,1005.60) scale(1,1.050)" text-anchor="end">0.00</text>
<text class="tk" transform="translate(1208.90,941.30) scale(1,1.050)" text-anchor="end">0.02</text>
<text class="tk" transform="translate(1208.90,877.00) scale(1,1.050)" text-anchor="end">0.04</text>
<text class="tk" transform="translate(1208.90,812.70) scale(1,1.050)" text-anchor="end">0.06</text>
<text class="tk" transform="translate(1208.90,748.40) scale(1,1.050)" text-anchor="end">0.08</text>
<text class="tk" transform="translate(1208.90,684.10) scale(1,1.050)" text-anchor="end">0.10</text>
<text class="tk" transform="translate(1208.90,619.80) scale(1,1.050)" text-anchor="end">0.12</text>
<text class="tk" transform="translate(1208.90,555.50) scale(1,1.050)" text-anchor="end">0.14</text>
<text class="lb" transform="translate(1680.75,1051.90) scale(1,1.050)" text-anchor="middle">Time (day)</text>
<text class="lb" transform="translate(1160.50,773.25) rotate(-90) scale(1,1.050)" text-anchor="middle">Time averaged indoor air conc. (mg/m<tspan class="sup" dy="-10.5">3</tspan><tspan dx="1.3" dy="10.5">)</tspan></text>
<g id="legend4">
<rect x="2020.30" y="744.80" width="113.7" height="57" rx="3.5" ry="3.5" fill="#fff" fill-opacity="0.8" stroke="#dcdcdc" stroke-width="1.5"/>
<path d="M2025.35,756.60 H2061.45" stroke="#2479b7" stroke-width="3.30" stroke-opacity="0.28" fill="none" stroke-linecap="square"/>
<path d="M2025.35,756.60 H2061.45" stroke="#2479b7" stroke-width="2.00" fill="none" stroke-linecap="square"/>
<path d="M2025.35,784.50 H2061.45" stroke="#ff7b06" stroke-width="4.80" stroke-opacity="0.28" fill="none" stroke-linecap="square"/>
<path d="M2025.35,784.50 H2061.45" stroke="#ff7b06" stroke-width="3.50" fill="none" stroke-linecap="square"/>
<text class="lg" transform="translate(2075.70,763.20) scale(1,1.050)" text-anchor="start">CPEM</text>
<text class="lg" transform="translate(2075.70,791.70) scale(1,1.050)" text-anchor="start">C<tspan class="ms" dx="0.8" dy="-7.5">ss</tspan><tspan class="ms" dx="-15.3" dy="11.2">air</tspan></text>
</g>
<path d="M1320.40,996.92 V549.58 M1419.30,996.92 V549.58 M1517.90,996.92 V549.58 M1615.40,996.92 V549.58 M1714.30,996.92 V549.58 M1812.90,996.92 V549.58 M1912.00,996.92 V549.58 M2008.00,996.92 V549.58 M2109.50,996.92 V549.58" stroke="#0a0a0a" stroke-width="2.70" stroke-opacity="0.10" fill="none" stroke-dasharray="6.1 3.35" stroke-dashoffset="4.17"/>
<path d="M1320.40,996.92 V549.58 M1419.30,996.92 V549.58 M1517.90,996.92 V549.58 M1615.40,996.92 V549.58 M1714.30,996.92 V549.58 M1812.90,996.92 V549.58 M1912.00,996.92 V549.58 M2008.00,996.92 V549.58 M2109.50,996.92 V549.58" stroke="#0a0a0a" stroke-width="1.50" fill="none" stroke-dasharray="6.1 3.35" stroke-dashoffset="4.17"/>
</g>
<text class="pn" transform="translate(4.70,234.30) scale(1,1.000)" text-anchor="start">(a)</text>
<text class="pn" transform="translate(4.70,775.30) scale(1,1.000)" text-anchor="start">(b)</text>
</g></svg></body></html>
